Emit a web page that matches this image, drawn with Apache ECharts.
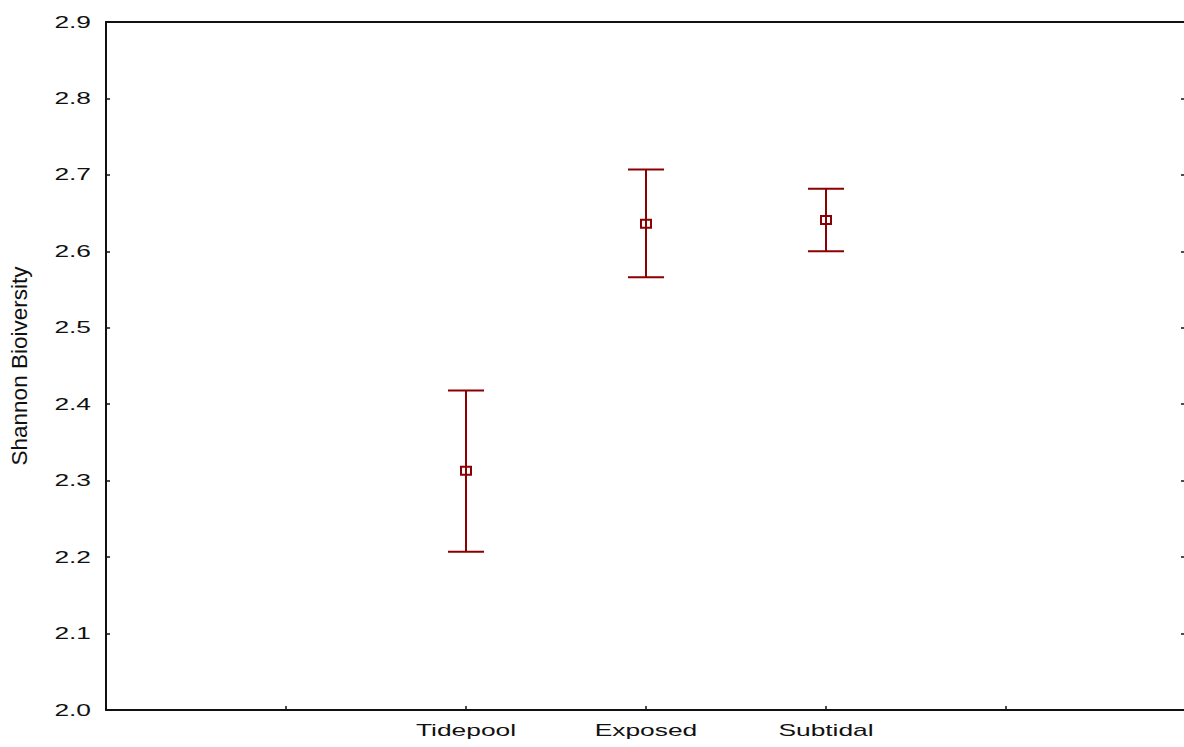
<!DOCTYPE html>
<html>
<head>
<meta charset="utf-8">
<script src="https://cdn.jsdelivr.net/npm/echarts@6/dist/echarts.min.js"></script>
<style>
  html, body { margin: 0; padding: 0; background: #fff; }
  #chart { width: 1184px; height: 747px; }
</style>
</head>
<body>
<div id="chart"></div>
<script>
// Habitat groups and their Shannon diversity (mean with interval bounds)
const habitats = ['Tidepool', 'Exposed', 'Subtidal'];
const meanH = [2.313, 2.636, 2.641];
const lowerH = [2.207, 2.566, 2.600];
const upperH = [2.418, 2.707, 2.682];
const yTicks = ['2.0', '2.1', '2.2', '2.3', '2.4', '2.5', '2.6', '2.7', '2.8', '2.9'];

// Groups occupy the middle slots of a 0..6 slot axis
const FIRST_SLOT = 2;
const SLOT_COUNT = 6;

const RED = '#8b0000';
const INK = '#111';

const chart = echarts.init(document.getElementById('chart'), null, { renderer: 'svg' });

const data = habitats.map((h, i) => [FIRST_SLOT + i, meanH[i], lowerH[i], upperH[i]]);

const slotLabel = v => {
  const idx = v - FIRST_SLOT;
  return habitats[idx] !== undefined ? habitats[idx] : '';
};

const tickFont = { fontFamily: 'Liberation Sans, Arial, sans-serif', fontSize: 17, color: INK };

chart.setOption({
  animation: false,
  backgroundColor: '#fff',
  grid: {
    left: 106, right: -2, top: 22, bottom: 37,
    containLabel: false, outerBoundsMode: 'none'
  },
  xAxis: [
    {
      type: 'value', position: 'bottom', min: 0, max: SLOT_COUNT, interval: 1,
      axisLine: { show: true, lineStyle: { color: INK, width: 2 } },
      axisTick: { show: true, inside: true, length: 4, lineStyle: { color: INK, width: 1.5 } },
      axisLabel: Object.assign({ margin: 12, formatter: slotLabel }, tickFont),
      splitLine: { show: false }
    },
    {
      type: 'value', position: 'top', min: 0, max: SLOT_COUNT, interval: 1,
      axisLine: { show: true, onZero: false, lineStyle: { color: INK, width: 2 } },
      axisTick: { show: false }, axisLabel: { show: false }, splitLine: { show: false }
    }
  ],
  yAxis: [
    {
      type: 'value', position: 'left', min: 2.0, max: 2.9, interval: 0.1,
      name: 'Shannon Bioiversity', nameLocation: 'middle', nameGap: 75, nameRotate: 90,
      nameTextStyle: { fontFamily: 'Liberation Sans, Arial, sans-serif', fontSize: 22.5, color: INK },
      axisLine: { show: true, onZero: false, lineStyle: { color: INK, width: 2 } },
      axisTick: { show: true, inside: true, length: 4, lineStyle: { color: INK, width: 1.5 } },
      axisLabel: Object.assign({
        margin: 15,
        formatter: v => yTicks[Math.round((v - 2.0) * 10)]
      }, tickFont),
      splitLine: { show: false }
    },
    {
      type: 'value', position: 'right', min: 2.0, max: 2.9, interval: 0.1,
      axisLine: { show: true, onZero: false, lineStyle: { color: INK, width: 2 } },
      axisTick: { show: true, inside: true, length: 5, lineStyle: { color: INK, width: 1.5 } },
      axisLabel: { show: false }, splitLine: { show: false }
    }
  ],
  series: [{
    type: 'custom',
    xAxisIndex: 0, yAxisIndex: 0,
    data: data,
    renderItem: (params, api) => {
      const x = api.value(0);
      const pM = api.coord([x, api.value(1)]);
      const pL = api.coord([x, api.value(2)]);
      const pH = api.coord([x, api.value(3)]);
      const cap = 18;
      const line = { stroke: RED, lineWidth: 2, fill: null };
      return {
        type: 'group',
        children: [
          { type: 'line', shape: { x1: pL[0], y1: pL[1], x2: pH[0], y2: pH[1] }, style: line },
          { type: 'line', shape: { x1: pH[0] - cap, y1: pH[1], x2: pH[0] + cap, y2: pH[1] }, style: line },
          { type: 'line', shape: { x1: pL[0] - cap, y1: pL[1], x2: pL[0] + cap, y2: pL[1] }, style: line },
          { type: 'rect', shape: { x: pM[0] - 5, y: pM[1] - 4, width: 10, height: 8 },
            style: { stroke: RED, lineWidth: 2, fill: 'none' } }
        ]
      };
    }
  }]
});

// Widen the horizontal tick labels (the axis uses a broad typeface)
function widenLabels() {
  const texts = document.querySelectorAll('#chart svg text');
  texts.forEach(t => {
    const ctm = t.getCTM();
    if (ctm && Math.abs(ctm.b) > 1e-6) return; // leave rotated axis name alone
    if (!t.textContent.trim()) return;
    const w = t.getComputedTextLength();
    t.setAttribute('textLength', (w * 1.55).toFixed(1));
    t.setAttribute('lengthAdjust', 'spacingAndGlyphs');
  });
}
widenLabels();
</script>
</body>
</html>
